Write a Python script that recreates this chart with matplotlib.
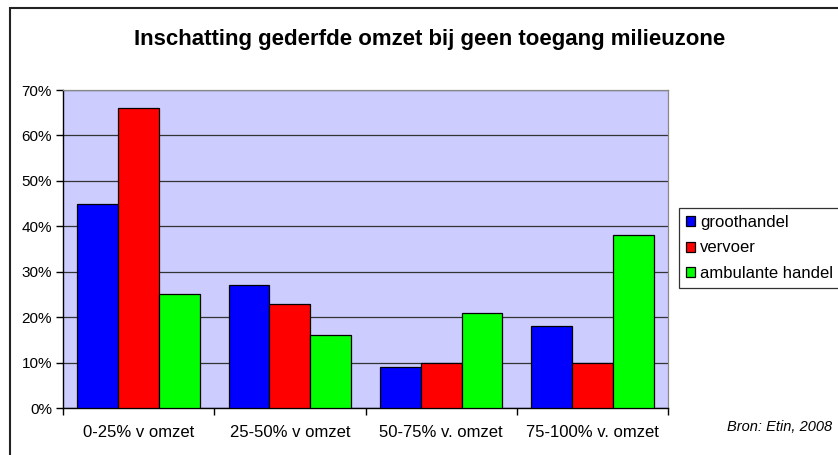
import matplotlib.pyplot as plt
import numpy as np
from matplotlib.patches import Rectangle
from matplotlib.ticker import FuncFormatter, MultipleLocator

plt.rcParams["font.family"] = ["Liberation Sans", "DejaVu Sans"]

categories = ["0-25% v omzet", "25-50% v omzet", "50-75% v. omzet", "75-100% v. omzet"]
series_names = ["groothandel", "vervoer", "ambulante handel"]
groothandel = [45, 27, 9, 18]
vervoer = [66, 23, 10, 10]
ambulante = [25, 16, 21, 38]
colors = ["#0000FF", "#FF0000", "#00FF00"]

fig = plt.figure(figsize=(8.38, 4.55), dpi=100)
ax = fig.add_axes([63 / 838, 1 - 408 / 455, 605 / 838, 318 / 455])
ax.set_facecolor("#CCCCFF")

x = np.arange(len(categories)) + 0.5
w = 0.27
for i, (vals, name) in enumerate(zip([groothandel, vervoer, ambulante], series_names)):
    ax.bar(x + (i - 1) * w, vals, width=w, color=colors[i], edgecolor="black",
           linewidth=0.9, label=name, zorder=3)

ax.set_xlim(0, len(categories))
ax.set_ylim(0, 70)
ax.yaxis.set_major_locator(MultipleLocator(10))
ax.yaxis.set_major_formatter(FuncFormatter(lambda v, _: f"{v:.0f}%"))
ax.grid(axis="y", color="#333333", linewidth=0.9, zorder=1)
ax.set_axisbelow(True)

ax.set_xticks(np.arange(len(categories) + 1))
ax.set_xticklabels([])
ax.set_xticks(x, minor=True)
ax.set_xticklabels(categories, minor=True, fontsize=12)
ax.tick_params(axis="x", which="minor", length=0, pad=12)
ax.tick_params(axis="x", which="major", length=5, width=1, direction="out")
ax.tick_params(axis="y", length=5, width=1, direction="out", labelsize=11, pad=3)

for s in ["top", "right"]:
    ax.spines[s].set_color("#888888")
    ax.spines[s].set_linewidth(0.9)
for s in ["left", "bottom"]:
    ax.spines[s].set_color("black")
    ax.spines[s].set_linewidth(1)

fig.text(430 / 838, 1 - 40 / 455, "Inschatting gederfde omzet bij geen toegang milieuzone",
         ha="center", va="center", fontsize=16, fontweight="bold")
fig.text(832 / 838, 1 - 427 / 455, "Bron: Etin, 2008", ha="right", va="center",
         fontsize=10.5, style="italic")

leg = fig.legend(loc="upper left", bbox_to_anchor=(679 / 838, 1 - 208 / 455),
                 fontsize=12, frameon=True, fancybox=False, borderpad=0.4,
                 handlelength=0.55, handleheight=0.55, handletextpad=0.3,
                 labelspacing=0.65, borderaxespad=0)
leg.get_frame().set_edgecolor("black")
leg.get_frame().set_linewidth(0.9)

fig.patches.append(Rectangle((10 / 838, -0.1), 1.2, 1.1 - 8 / 455,
                             transform=fig.transFigure, fill=False,
                             edgecolor="#222222", linewidth=1.5))

fig.savefig("out.png", dpi=100)
